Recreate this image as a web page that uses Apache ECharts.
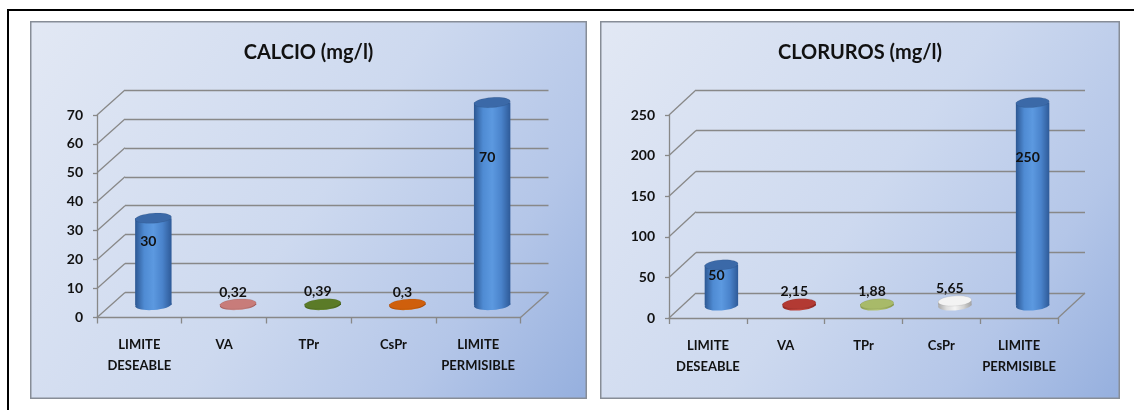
<!DOCTYPE html>
<html>
<head>
<meta charset="utf-8">
<script src="https://cdn.jsdelivr.net/npm/echarts@6/dist/echarts.min.js"></script>
<style>
  html, body { margin: 0; padding: 0; background: #fff; width: 1134px; height: 410px; overflow: hidden; position: relative; }
  .rule { position: absolute; background: #000; }
  .panel { position: absolute; top: 21px; height: 378px; }
</style>
</head>
<body>
<div class="rule" style="left:7px;top:9px;width:1127px;height:2px"></div>
<div class="rule" style="left:7px;top:9px;width:2px;height:401px"></div>
<div id="calcio" class="panel" style="left:30px;width:557px"></div>
<div id="cloruros" class="panel" style="left:600px;width:520px"></div>
<script>
// Sampling points shared by both panels
const categories = ['LIMITE\nDESEABLE', 'VA', 'TPr', 'CsPr', 'LIMITE\nPERMISIBLE'];

// Calcio (mg/l)
const calcioTitle = 'CALCIO (mg/l)';
const calcioValues = [30, 0.32, 0.39, 0.3, 70];
const calcioTicks = [0, 10, 20, 30, 40, 50, 60, 70];

// Cloruros (mg/l)
const clorurosTitle = 'CLORUROS (mg/l)';
const clorurosValues = [50, 2.15, 1.88, 5.65, 250];
const clorurosTicks = [0, 50, 100, 150, 200, 250];

// Column colours: side gradient stops and top face
const BLUE = { side: ['#2c5792', '#4f8bd3', '#5c99e0', '#4a83cb', '#2e5a98'], top: '#3b69a8' };
const calcioPalette = [
  BLUE,
  { side: ['#a85c5b', '#c98584', '#d49392', '#c27c7b', '#a25857'], top: '#c87c7a' },
  { side: ['#46621c', '#5f802c', '#6a8c33', '#5a7a29', '#425e1a'], top: '#5b7b28' },
  { side: ['#a84a08', '#d0650f', '#dc7016', '#c95f0d', '#a44707'], top: '#cf5f0c' },
  BLUE
];
const clorurosPalette = [
  BLUE,
  { side: ['#8e2924', '#b63d36', '#c4473f', '#b03a33', '#8a2722'], top: '#b33a33' },
  { side: ['#8b9c50', '#a9bb6a', '#b6c777', '#a3b563', '#87984c'], top: '#a8ba69' },
  { side: ['#a9a9a9', '#dedede', '#f4f4f4', '#d4d4d4', '#a2a2a2'], top: '#f3f3f3' },
  BLUE
];

const LINE = '#888888';
const FONT = 'Lato, "Open Sans", sans-serif';

function stops(arr) {
  return arr.map((c, i) => ({ offset: i / (arr.length - 1), color: c }));
}

function fmt(v) {
  return String(v).replace('.', ',');
}

function buildOption(cfg) {
  const { title, values, ticks, palette, front, dx, dy, width, height } = cfg;
  const max = ticks[ticks.length - 1];
  const step = ticks[1] - ticks[0];
  const back = {
    left: front.left + dx,
    right: front.right - dx,
    top: front.top - dy,
    bottom: front.bottom + dy
  };

  // Depth connectors from the front axis to the back wall, plus the floor's right edge
  function renderConnector(params, api) {
    const cs = params.coordSys;
    const v = api.value(1);
    const y = api.coord([0, v])[1];
    const children = [{
      type: 'line',
      shape: { x1: cs.x, y1: y, x2: cs.x + dx, y2: y - dy },
      style: { stroke: LINE, lineWidth: 1.3 }
    }];
    if (v === 0) {
      children.push({
        type: 'line',
        shape: { x1: cs.x + cs.width, y1: y, x2: cs.x + cs.width + dx, y2: y - dy },
        style: { stroke: LINE, lineWidth: 1.3 }
      });
    }
    return { type: 'group', children };
  }

  // Cylinders standing halfway between the front edge and the back wall
  function renderCylinder(params, api) {
    const i = api.value(0);
    const v = api.value(1);
    const base = api.coord([i, 0]);
    const top = api.coord([i, v]);
    const band = api.size([1, 0])[0];
    const w = band * 0.43;
    const rx = w / 2;
    const ry = 5;
    const cx = base[0] + dx / 2;
    const yb = base[1] - dy / 2;
    const yt = top[1] - dy / 2;
    const pal = palette[i];
    const sideFill = { type: 'linear', x: 0, y: 0, x2: 1, y2: 0, colorStops: stops(pal.side) };
    const h = yb - yt;
    const tall = h > 20;
    const labelY = tall ? yt + h * 0.27 : yt - 12;
    const labelX = cx - 5;
    return {
      type: 'group',
      children: [
        { type: 'ellipse', shape: { cx: cx, cy: yb, rx: rx, ry: ry }, rotation: 0.07, originX: cx, originY: yb, style: { fill: sideFill } },
        { type: 'rect', shape: { x: cx - rx, y: yt, width: w, height: h }, style: { fill: sideFill } },
        { type: 'ellipse', shape: { cx: cx, cy: yt, rx: rx, ry: ry }, rotation: 0.07, originX: cx, originY: yt,
          style: { fill: pal.top, stroke: 'rgba(0,0,0,0.12)', lineWidth: 0.6 } },
        { type: 'text', style: { text: fmt(v), x: labelX, y: labelY, align: 'center', verticalAlign: 'middle',
          font: 'bold 14px ' + FONT, fill: '#111' } }
      ]
    };
  }

  return {
    animation: false,
    backgroundColor: {
      type: 'linear', x: 0, y: 0, x2: 1, y2: 1,
      colorStops: [
        { offset: 0, color: '#e2e8f4' },
        { offset: 0.5, color: '#cdd9ef' },
        { offset: 0.78, color: '#b4c6e8' },
        { offset: 1, color: '#95afde' }
      ]
    },
    title: {
      text: title,
      left: 'center',
      top: 17,
      textStyle: { fontFamily: FONT, fontWeight: 'bold', fontSize: 20, color: '#111' }
    },
    graphic: [{
      type: 'rect',
      z: 100,
      silent: true,
      shape: { x: 0.75, y: 0.75, width: width - 1.5, height: height - 1.5 },
      style: { fill: 'none', stroke: '#878d97', lineWidth: 1.5 }
    }],
    grid: [
      { left: front.left, right: front.right, top: front.top, bottom: front.bottom },
      { left: back.left, right: back.right, top: back.top, bottom: back.bottom }
    ],
    xAxis: [
      {
        type: 'category', gridIndex: 0, data: categories, boundaryGap: true,
        axisLine: { lineStyle: { color: LINE, width: 1.3 } },
        axisTick: { show: true, interval: 0, length: 6, lineStyle: { color: LINE, width: 1.3 } },
        axisLabel: { interval: 0, margin: 17, fontFamily: FONT, fontWeight: 'bold', fontSize: 13, color: '#111', lineHeight: 21 }
      },
      { type: 'category', gridIndex: 1, data: categories, show: false }
    ],
    yAxis: [
      {
        type: 'value', gridIndex: 0, min: 0, max: max, interval: step,
        axisLine: { show: true, lineStyle: { color: LINE, width: 1.3 } },
        axisTick: { show: true, length: 4, lineStyle: { color: LINE, width: 1.3 } },
        splitLine: { show: false },
        axisLabel: { margin: 14, fontFamily: FONT, fontWeight: 'bold', fontSize: 14, color: '#111' }
      },
      {
        type: 'value', gridIndex: 1, min: 0, max: max, interval: step,
        axisLine: { show: false }, axisTick: { show: false }, axisLabel: { show: false },
        splitLine: { show: true, lineStyle: { color: LINE, width: 1.3 } }
      }
    ],
    series: [
      {
        type: 'custom', xAxisIndex: 0, yAxisIndex: 0, z: 1, silent: true,
        renderItem: renderConnector,
        data: ticks.map(t => [0, t])
      },
      {
        type: 'custom', xAxisIndex: 0, yAxisIndex: 0, z: 5, silent: true,
        renderItem: renderCylinder,
        data: values.map((v, i) => [i, v])
      }
    ]
  };
}

const calcioChart = echarts.init(document.getElementById('calcio'));
calcioChart.setOption(buildOption({
  title: calcioTitle, values: calcioValues, ticks: calcioTicks, palette: calcioPalette,
  front: { left: 67, right: 66.5, top: 94, bottom: 81.5 }, dx: 28, dy: 25, width: 557, height: 378
}));

const clorurosChart = echarts.init(document.getElementById('cloruros'));
clorurosChart.setOption(buildOption({
  title: clorurosTitle, values: clorurosValues, ticks: clorurosTicks, palette: clorurosPalette,
  front: { left: 69, right: 62, top: 94, bottom: 81 }, dx: 27, dy: 25, width: 520, height: 378
}));
</script>
</body>
</html>
